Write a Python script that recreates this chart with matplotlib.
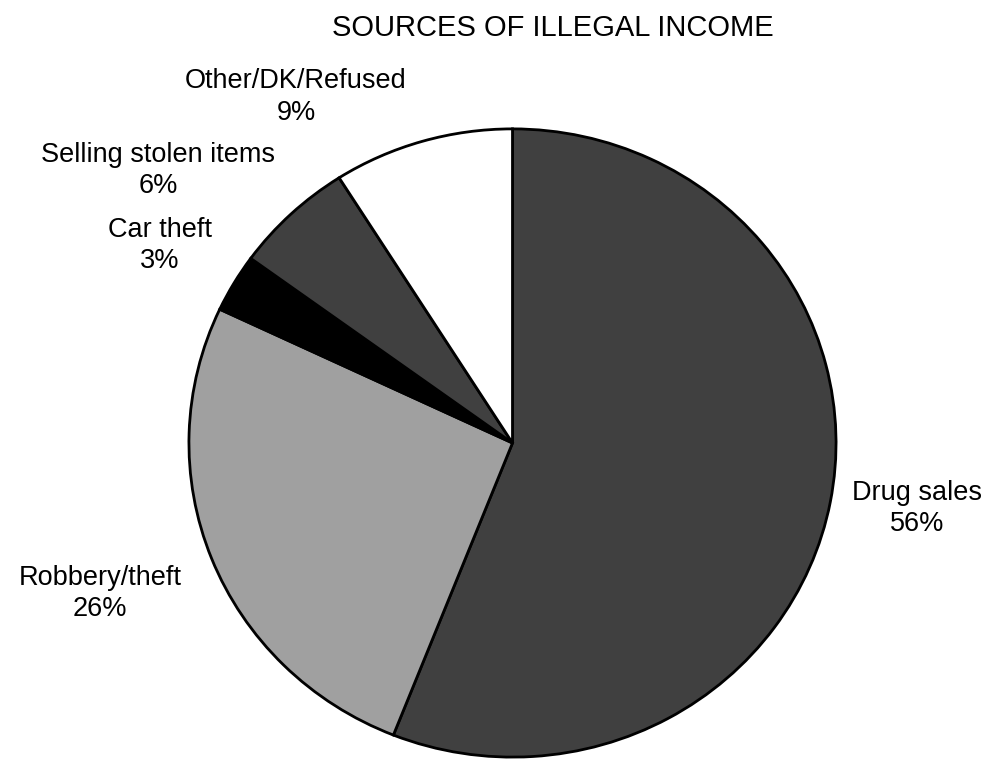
import matplotlib
matplotlib.use("Agg")
import matplotlib.pyplot as plt

plt.rcParams['font.family'] = ['Liberation Sans', 'DejaVu Sans']

# Data
categories = ["Drug sales", "Robbery/theft", "Car theft", "Selling stolen items", "Other/DK/Refused"]
shares = [56, 26, 3, 6, 9]
colors = ["#404040", "#a0a0a0", "#000000", "#404040", "#ffffff"]
title = "SOURCES OF ILLEGAL INCOME"

W, H = 989, 761
fig = plt.figure(figsize=(W / 100, H / 100), dpi=100)


def px(x, y):
    """Pixel position (from top-left) to figure fraction."""
    return x / W, 1 - y / H


# Pie axes: slightly wider than tall
cx, cy, rx, ry = 512.5, 443, 325.5, 316
ax = fig.add_axes([(cx - rx) / W, (H - cy - ry) / H, 2 * rx / W, 2 * ry / H])
ax.pie(shares, colors=colors, startangle=90, counterclock=False, radius=1,
       wedgeprops=dict(edgecolor="black", linewidth=2.0, joinstyle="miter"))
ax.set_aspect("auto")
ax.set_xlim(-1.006, 1.006)
ax.set_ylim(-1.006, 1.006)
ax.axis("off")

# Title
fig.text(*px(553, 36), title, ha="center", va="baseline", fontsize=21)

# Slice labels: (center x, baseline of name, baseline of percent) in pixels
label_pos = {
    "Drug sales": (917, 500, 531),
    "Robbery/theft": (100, 585, 616),
    "Car theft": (160, 237, 268),
    "Selling stolen items": (158, 162, 193),
    "Other/DK/Refused": (296, 88, 120),
}
for name, val in zip(categories, shares):
    x, y1, y2 = label_pos[name]
    fig.text(*px(x, y1), name, ha="center", va="baseline", fontsize=19.5)
    fig.text(*px(x, y2), f"{val}%", ha="center", va="baseline", fontsize=19.5)

fig.savefig("out.png", dpi=100)
